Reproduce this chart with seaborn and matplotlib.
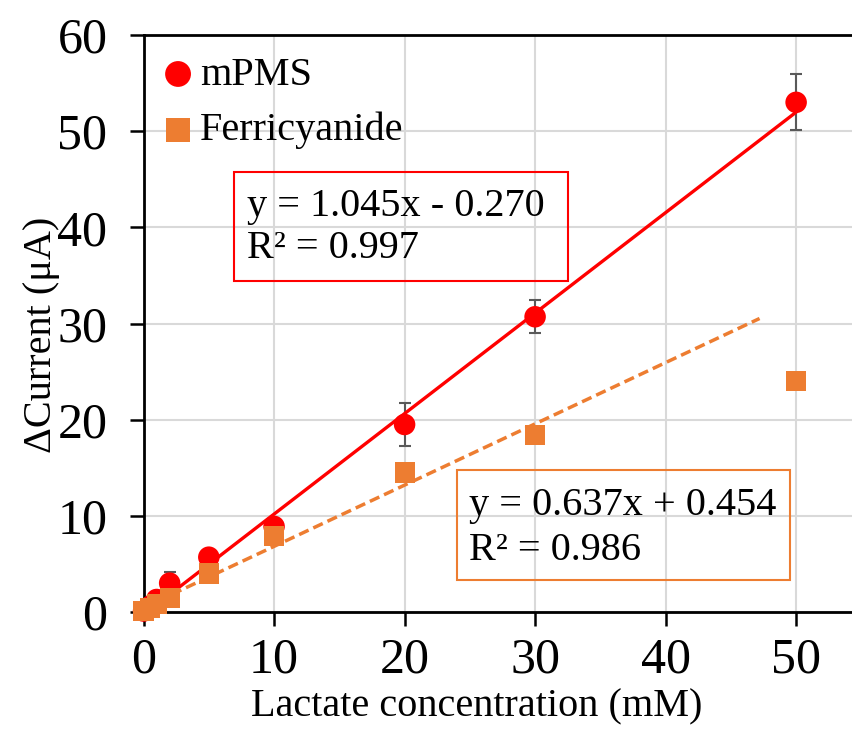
import matplotlib
matplotlib.use("Agg")
import matplotlib.pyplot as plt
import seaborn as sns
import pandas as pd
import numpy as np
from matplotlib.patches import Rectangle

# Données
conc = [0, 0.5, 1, 2, 5, 10, 20, 30, 50]
mpms = [0.1, 0.6, 1.3, 3.0, 5.7, 8.9, 19.5, 30.7, 53.0]
mpms_err = [0.2, 0.3, 0.4, 1.2, 0.5, 0.6, 2.2, 1.7, 2.9]
ferri = [0.1, 0.4, 0.8, 1.5, 4.0, 7.9, 14.5, 18.4, 24.0]

# Droites de tendance (équations affichées)
fit_mpms = (1.045, -0.270, 0.997)
fit_ferri = (0.637, 0.454, 0.986)
fit_mpms_range = [0, 50]
fit_ferri_range = [0, 47.2]

x_ticks = [0, 10, 20, 30, 40, 50]
y_ticks = [0, 10, 20, 30, 40, 50, 60]

RED = "#FF0000"
ORANGE = "#ED7D31"
GRID = "#D9D9D9"

sns.set_theme(style="white")
plt.rcParams['font.family'] = ['Liberation Serif', 'DejaVu Serif']
plt.rcParams['text.color'] = 'black'
plt.rcParams['axes.labelcolor'] = 'black'
plt.rcParams['xtick.color'] = 'black'
plt.rcParams['ytick.color'] = 'black'

df = pd.DataFrame({"conc": conc, "mPMS": mpms, "Ferricyanide": ferri})

fig = plt.figure(figsize=(8.52, 7.31), dpi=100)
ax = fig.add_axes([0.1685, 0.1628, 0.8425, 0.7893])

ax.set_xlim(0, 55)
ax.set_ylim(0, 60)
ax.set_xticks(x_ticks)
ax.set_yticks(y_ticks)
ax.grid(True, color=GRID, lw=1.5, zorder=0)
ax.set_axisbelow(True)

# Barres d'erreur
ax.errorbar(df["conc"], df["mPMS"], yerr=mpms_err, fmt="none",
            ecolor="#595959", elinewidth=1.5, capsize=4, capthick=1.5, zorder=2)

# Droites de tendance
xr = np.array(fit_mpms_range)
ax.plot(xr, fit_mpms[0] * xr + fit_mpms[1], color=RED, lw=2.4, zorder=3)
xf = np.array(fit_ferri_range)
ax.plot(xf, fit_ferri[0] * xf + fit_ferri[1], color=ORANGE, lw=2.5,
        ls=(0, (3, 1.5)), zorder=3)

# Points
sns.scatterplot(data=df, x="conc", y="mPMS", ax=ax, color=RED, marker="o",
                s=240, edgecolor="none", label="mPMS", zorder=4, clip_on=False)
sns.scatterplot(data=df, x="conc", y="Ferricyanide", ax=ax, color=ORANGE, marker="s",
                s=210, edgecolor="none", label="Ferricyanide", zorder=5, clip_on=False)

# Axes
ax.spines["right"].set_visible(False)
for side in ["left", "bottom", "top"]:
    ax.spines[side].set_color("black")
    ax.spines[side].set_linewidth(2)
ax.tick_params(axis="both", direction="out", length=10, width=1.8, color="black",
               labelsize=36, bottom=True, left=True)
ax.tick_params(axis="y", pad=16)
ax.tick_params(axis="x", pad=8)

ax.set_xlabel("Lactate concentration (mM)", fontsize=29, va="center")
ax.xaxis.set_label_coords(0.4645, -0.164)
ax.set_ylabel("ΔCurrent (μA)", fontsize=29, va="center")
ax.yaxis.set_label_coords(-0.142, 0.48)

# Légende
leg = ax.legend(loc="upper left", bbox_to_anchor=(0.0256, 0.963), frameon=False,
                fontsize=29, handlelength=0.8, handletextpad=0.15, labelspacing=0.45,
                borderaxespad=0.0, borderpad=0.0, markerscale=1.2)

# Encadrés des équations
ax.add_patch(Rectangle((6.93, 34.4), 25.6, 11.35, fill=False, ec=RED, lw=1.5, zorder=6))
ax.text(7.9, 42.2, f"y = {fit_mpms[0]:.3f}x - {abs(fit_mpms[1]):.3f}", fontsize=29,
        va="center", ha="left", zorder=7)
ax.text(7.9, 37.8, f"R² = {fit_mpms[2]:.3f}", fontsize=29, va="center", ha="left", zorder=7)

ax.add_patch(Rectangle((24.0, 3.3), 25.5, 11.5, fill=False, ec=ORANGE, lw=1.5, zorder=6))
ax.text(24.9, 11.1, f"y = {fit_ferri[0]:.3f}x + {fit_ferri[1]:.3f}", fontsize=29,
        va="center", ha="left", zorder=7)
ax.text(24.9, 6.4, f"R² = {fit_ferri[2]:.3f}", fontsize=29, va="center", ha="left", zorder=7)

fig.savefig("out.png", dpi=100)
